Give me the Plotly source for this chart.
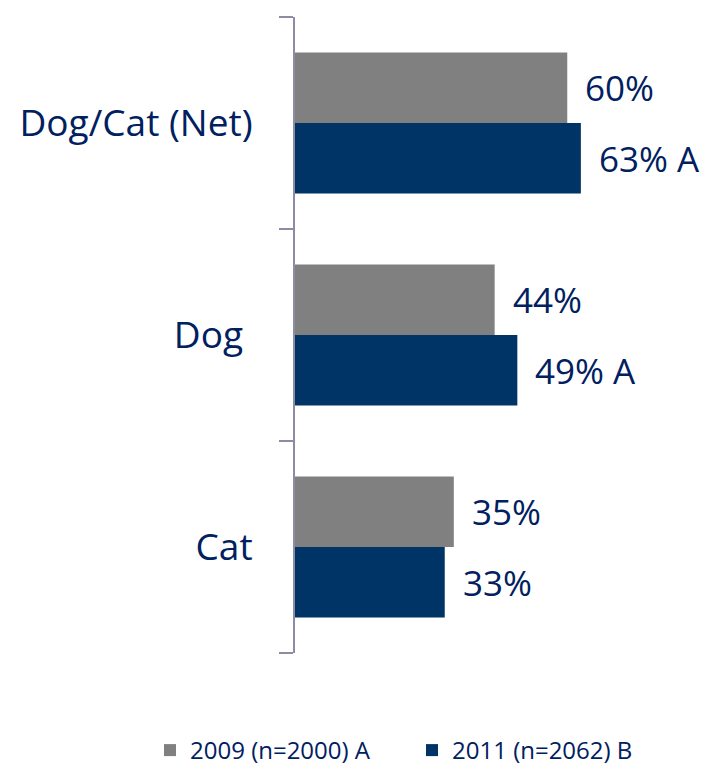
import plotly.graph_objects as go

# Pet ownership share by survey wave
categories = ["Dog/Cat (Net)", "Dog", "Cat"]
category_text = ["Dog/Cat (Net)", "Dog\u00a0", "Cat"]
series_names = ["2009 (n=2000) A", "2011 (n=2062) B"]
values_2009 = [60, 44, 35]
values_2011 = [63, 49, 33]
sig_2011 = [" A", " A", ""]   # significance marker vs 2009

GRAY = "#808080"
NAVY = "#003366"
TEXT = "#002060"
AXIS = "#8C8CA3"
FONT = "Open Sans"

fig = go.Figure()
fig.add_trace(go.Bar(y=categories, x=values_2009, orientation="h",
                     name=series_names[0], legend="legend", showlegend=True,
                     marker=dict(color=GRAY, line_width=0)))
fig.add_trace(go.Bar(y=categories, x=values_2011, orientation="h",
                     name=series_names[1], legend="legend2", showlegend=True,
                     marker=dict(color=NAVY, line_width=0)))

# value labels just past the end of each bar
for trace_idx, (vals, suffix) in enumerate([(values_2009, ["", "", ""]),
                                            (values_2011, sig_2011)]):
    for i, (cat, v) in enumerate(zip(categories, vals)):
        offset = -0.1675 if trace_idx == 0 else 0.1675
        fig.add_annotation(x=v, y=i + offset, xref="x", yref="y",
                           text=f"{v}%{suffix[i]}", showarrow=False,
                           xanchor="left", yanchor="middle", xshift=16,
                           font=dict(family=FONT, size=35, color=TEXT))

legend_style = dict(orientation="h", xref="container", yref="container",
                    xanchor="left", y=0.0, yanchor="bottom",
                    font=dict(family=FONT, size=24, color=TEXT),
                    bgcolor="rgba(0,0,0,0)")

fig.update_layout(
    width=708, height=773,
    margin=dict(l=295, r=50, t=17, b=120),
    paper_bgcolor="white", plot_bgcolor="white",
    barmode="group", bargap=0.335, bargroupgap=0,
    font=dict(family=FONT, color=TEXT),
    showlegend=True,
    legend=dict(x=150 / 708, **legend_style),
    legend2=dict(x=412 / 708, **legend_style),
    xaxis=dict(range=[0, 80], visible=False, fixedrange=True),
    yaxis=dict(type="category", categoryorder="array", categoryarray=categories,
               tickmode="array", tickvals=categories, ticktext=category_text,
               autorange="reversed", showline=True, linecolor=AXIS, linewidth=2,
               ticks="outside", tickson="boundaries", ticklen=14, tickwidth=2,
               tickcolor=AXIS, ticklabelstandoff=33, showgrid=False,
               tickfont=dict(family=FONT, size=37, color=TEXT)),
)

fig.write_html("out.html")
